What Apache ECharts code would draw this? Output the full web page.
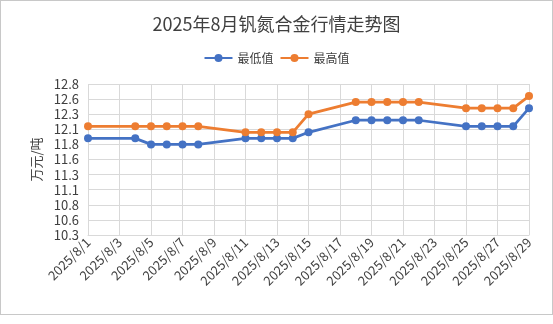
<!DOCTYPE html>
<html><head><meta charset="utf-8">
<script src="https://cdn.jsdelivr.net/npm/echarts@6/dist/echarts.min.js"></script>
<style>
html,body{margin:0;padding:0;background:#fff;}
#c{width:551px;height:313px;border:1px solid #c8c8c8;background:#fff;}
</style></head>
<body><div id="c"></div>
<script>
var title = '2025年8月钒氮合金行情走势图';
var seriesNames = ['最低值', '最高值'];
var days = [];
for (var d = 1; d <= 29; d++) days.push('2025/8/' + d);
// values per trading day (null = no quote)
var lowValues = [11.9, null, null, 11.9, 11.8, 11.8, 11.8, 11.8, null, null,
  11.9, 11.9, 11.9, 11.9, 12.0, null, null, 12.2, 12.2, 12.2,
  12.2, 12.2, null, null, 12.1, 12.1, 12.1, 12.1, 12.4];
var highValues = [12.1, null, null, 12.1, 12.1, 12.1, 12.1, 12.1, null, null,
  12.0, 12.0, 12.0, 12.0, 12.3, null, null, 12.5, 12.5, 12.5,
  12.5, 12.5, null, null, 12.4, 12.4, 12.4, 12.4, 12.6];
var yName = '万元/吨';
var yMin = 10.3, yMax = 12.8, yStep = 0.25;

var font = '"Noto Sans CJK SC", "Noto Sans", sans-serif';
var chart = echarts.init(document.getElementById('c'));
chart.setOption({
  animation: false,
  color: ['#4472C4', '#ED7D31'],
  title: { text: title, left: 'center', top: 9,
    textStyle: { fontFamily: font, fontSize: 18, fontWeight: 'normal', color: '#404040' } },
  legend: { top: 46, left: 'center', itemWidth: 28, itemHeight: 10, itemGap: 6,
    textStyle: { fontFamily: font, fontSize: 12, color: '#404040' },
    data: seriesNames },
  grid: { left: 87, right: 23, top: 83, bottom: 79 },
  xAxis: {
    type: 'category', data: days, boundaryGap: false,
    axisLine: { lineStyle: { color: '#d9d9d9' } },
    axisTick: { show: false },
    splitLine: { show: true, interval: 1, lineStyle: { color: '#d9d9d9' } },
    axisLabel: { interval: 1, rotate: 45, fontFamily: font, fontSize: 13, color: '#404040', margin: 5 }
  },
  yAxis: {
    type: 'value', min: yMin, max: yMax, interval: yStep,
    name: yName, nameLocation: 'middle', nameGap: 44, nameRotate: 90,
    nameTextStyle: { fontFamily: font, fontSize: 13, color: '#404040' },
    axisLine: { show: false }, axisTick: { show: false },
    splitLine: { lineStyle: { color: '#d9d9d9' } },
    axisLabel: { fontFamily: font, fontSize: 13, color: '#404040', margin: 9,
      formatter: function (v) { return v.toFixed(1); } }
  },
  series: [
    { name: seriesNames[0], type: 'line', data: lowValues, connectNulls: true,
      symbol: 'circle', symbolSize: 8, lineStyle: { width: 2.75 } },
    { name: seriesNames[1], type: 'line', data: highValues, connectNulls: true,
      symbol: 'circle', symbolSize: 8, lineStyle: { width: 2.75 } }
  ]
});
</script></body></html>
